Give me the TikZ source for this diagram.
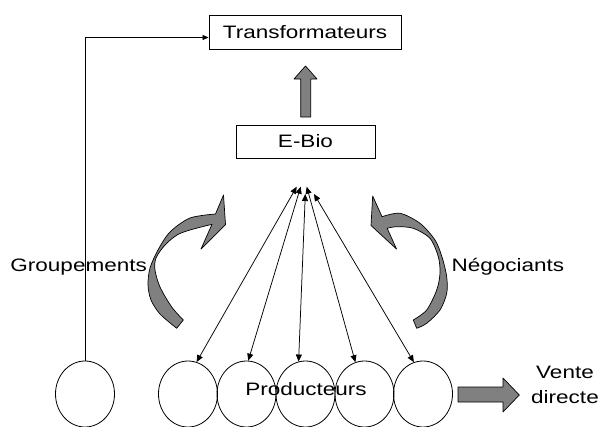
\documentclass[tikz,border=0pt]{standalone}
\usepackage{fontspec}
\usepackage{graphicx}
\setmainfont{Liberation Sans}
\usetikzlibrary{arrows.meta,shapes.geometric}
\definecolor{arrowgray}{RGB}{128,128,128}
% labels are set a little wider than the font's natural width
\newcommand{\wtext}[1]{\scalebox{1.25}[1]{#1}}

\begin{document}
\begin{tikzpicture}[x=1pt,y=-1pt,
  lbl/.style={font=\fontsize{18}{21}\selectfont, inner sep=0pt},
  boxnode/.style={draw, line width=0.8pt, inner sep=0pt, font=\fontsize{18}{21}\selectfont},
  prod/.style={draw, ellipse, line width=0.8pt, minimum width=59pt, minimum height=66pt, inner sep=0pt},
  link/.style={line width=0.75pt, {Triangle[length=7pt,width=6pt]}-{Triangle[length=7pt,width=6pt]}},
  feed/.style={line width=0.75pt, -{Triangle[length=6pt,width=5pt]}},
  blockarrow/.style={fill=arrowgray, draw=black, line width=0.7pt, line join=round}]
\useasboundingbox (0,0) rectangle (600,426);

% boxes
\node[boxnode, minimum width=192pt, minimum height=34pt] (tr) at (305,32) {\wtext{Transformateurs}};
\node[boxnode, minimum width=139pt, minimum height=33pt] (eb) at (305.5,141.5) {\wtext{E-Bio}};

% producers
\node[prod] (c1) at (85,394) {};
\node[prod] (c2) at (188,394) {};
\node[prod] (c3) at (246.5,394) {};
\node[prod] (c4) at (305.5,394) {};
\node[prod] (c5) at (364.5,394) {};
\node[prod] (c6) at (423,394) {};

% labels
\node[lbl, anchor=base] (prodlbl) at (306,395) {\wtext{Producteurs}};
\node[lbl, anchor=base east] (grp) at (147,271.5) {\wtext{Groupements}};
\node[lbl, anchor=base west] (neg) at (451.5,271.5) {\wtext{Négociants}};
\node[lbl, anchor=base] (vente) at (565,378) {\wtext{Vente}};
\node[lbl, anchor=base] (directe) at (565,403) {\wtext{directe}};

% exchanges between E-Bio and the producers
\coordinate (t1) at (296.7,186.7);
\coordinate (t2) at (300.7,186.7);
\coordinate (t3) at (305.3,194);
\coordinate (t4) at (306.7,186.7);
\coordinate (t5) at (314,194);
\draw[link] (t1) -- (c2.75);
\draw[link] (t2) -- (c3.87);
\draw[link] (t3) -- (c4.102);
\draw[link] (t4) -- (c5.106);
\draw[link] (t5) -- (c6.106);

% direct route to the processors
\draw[feed] (c1.north) |- ([yshift=-5.5pt]tr.west);

% block arrow from E-Bio up to the processors
\path[blockarrow] (300.7,117) -- (310.7,117) -- (310.7,79) -- (317,79) -- (305.5,66)
  -- (294,79) -- (300.7,79) -- cycle;

% block arrow for direct sales
\path[blockarrow] (458,387) -- (503,387) -- (503,378) -- (519.3,395) -- (503,412)
  -- (503,402) -- (458,402) -- cycle;

% curved arrow on the left (Groupements)
\path[blockarrow] plot[smooth] coordinates {(215.5,214) (190,218) (170,232) (158,250)
    (150,268) (148,285) (151,300) (160,314) (176.7,328.3)}
  -- plot[smooth] coordinates {(183.3,320) (171.7,307) (160,287) (155,270) (156,258)
    (165,245) (177,235) (190,230) (212,224.3)}
  -- (201,249) -- (225.5,224.5) -- (223.5,195) -- cycle;

% curved arrow on the right (Négociants)
\path[blockarrow] plot[smooth] coordinates {(382,216.7) (400,213.3) (420,223.3) (435,240)
    (442,257) (446.7,276.7) (446.7,293.3) (440,310) (426.7,323.3) (416.7,328.3)}
  -- plot[smooth] coordinates {(413.3,320) (426.7,310) (436.7,290) (440,273.3)
    (438.3,256.7) (430,238.3) (413.3,228.3) (396.7,226.7) (387.2,228.3)}
  -- (396.5,249) -- (371,225.5) -- (372.7,196) -- cycle;
\end{tikzpicture}
\end{document}
